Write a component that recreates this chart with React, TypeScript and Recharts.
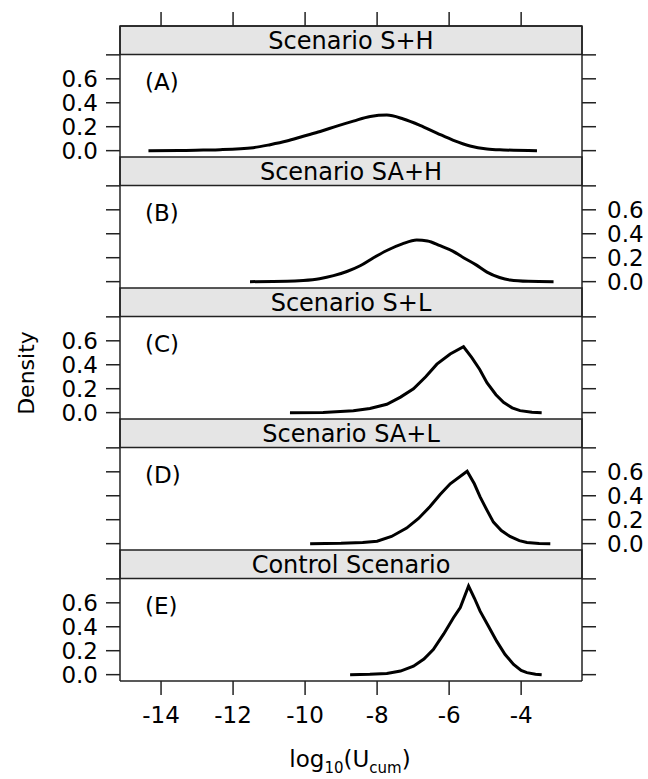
import { LineChart, Line, XAxis, YAxis, ReferenceArea } from 'recharts'

// panel layout (lattice-style stack of 5 density plots)
const xTicks = [-14, -12, -10, -8, -6, -4]
const densityTicks = [0, 0.2, 0.4, 0.6, 0.8]

const titles = ['Scenario S+H', 'Scenario SA+H', 'Scenario S+L', 'Scenario SA+L', 'Control Scenario']
const tags = ['(A)', '(B)', '(C)', '(D)', '(E)']

// (A) S+H
const logA = [-14.35, -13.5, -12.83, -12.36, -11.44, -10.97, -10.51, -10.05, -9.58, -9.12, -8.66, -8.19, -7.73, -7.27, -6.81, -6.34, -5.88, -5.42, -4.95, -4.49, -3.56]
const densA = [0, 0.001, 0.005, 0.008, 0.025, 0.05, 0.08, 0.12, 0.16, 0.205, 0.247, 0.286, 0.297, 0.264, 0.211, 0.147, 0.086, 0.039, 0.014, 0.006, 0]

// (B) SA+H
const logB = [-11.53, -10.5, -10.05, -9.6, -9.21, -8.84, -8.47, -8.1, -7.73, -7.3, -6.9, -6.6, -6.25, -5.9, -5.6, -5.25, -4.95, -4.6, -4.31, -3.8, -3.1]
const densB = [0, 0.003, 0.01, 0.025, 0.05, 0.085, 0.133, 0.2, 0.26, 0.315, 0.347, 0.34, 0.3, 0.255, 0.2, 0.14, 0.08, 0.035, 0.014, 0.003, 0]

// (C) S+L
const logC = [-10.42, -9.5, -8.66, -8.2, -7.73, -7.35, -6.99, -6.65, -6.34, -5.97, -5.6, -5.37, -5.15, -4.95, -4.7, -4.49, -4.25, -4.03, -3.7, -3.43]
const densC = [0, 0.002, 0.015, 0.035, 0.07, 0.13, 0.2, 0.3, 0.405, 0.49, 0.55, 0.46, 0.36, 0.25, 0.15, 0.086, 0.04, 0.017, 0.003, 0]

// (D) SA+L
const logD = [-9.86, -9.0, -8.4, -8.0, -7.6, -7.18, -6.85, -6.53, -6.25, -5.97, -5.5, -5.3, -5.14, -4.95, -4.77, -4.55, -4.31, -4.05, -3.84, -3.5, -3.19]
const densD = [0, 0.003, 0.01, 0.02, 0.06, 0.13, 0.21, 0.31, 0.41, 0.5, 0.605, 0.5, 0.39, 0.28, 0.18, 0.11, 0.06, 0.025, 0.01, 0.002, 0]

// (E) control
const logE = [-8.75, -8.2, -7.73, -7.35, -6.99, -6.7, -6.44, -6.15, -5.88, -5.69, -5.46, -5.3, -5.14, -4.9, -4.68, -4.45, -4.21, -4.0, -3.84, -3.6, -3.43]
const densE = [0, 0.003, 0.01, 0.03, 0.07, 0.13, 0.21, 0.34, 0.475, 0.56, 0.74, 0.64, 0.53, 0.4, 0.28, 0.17, 0.086, 0.035, 0.017, 0.004, 0]

const series = [
  { logs: logA, dens: densA, curve: 'monotone' },
  { logs: logB, dens: densB, curve: 'monotone' },
  { logs: logC, dens: densC, curve: 'linear' },
  { logs: logD, dens: densD, curve: 'linear' },
  { logs: logE, dens: densE, curve: 'linear' },
] as const

const W = 648
const H = 779
const FRAME_LEFT = 120
const FRAME_RIGHT = 582
const TOP = 26
const PANEL_H = 131
const X_DOMAIN: [number, number] = [-15.14, -2.31]
const Y_DOMAIN: [number, number] = [-0.053, 1.041]
const STRIP_FROM = 0.803
const FONT = 'DejaVu Sans, Verdana, sans-serif'
const INK = '#222'

const densityTick = (show: boolean) => (props: any) => {
  const { x, y, payload, textAnchor } = props
  if (!show || payload.value > 0.7) return <g />
  return (
    <text x={x} y={y} dy="0.36em" textAnchor={textAnchor} fontFamily={FONT} fontSize={23} fill="#000">
      {payload.value.toFixed(1)}
    </text>
  )
}

const logTick = (show: boolean) => (props: any) => {
  const { x, y, payload } = props
  if (!show) return <g />
  return (
    <text x={x} y={y} dy="0.71em" textAnchor="middle" fontFamily={FONT} fontSize={23} fill="#000">
      {payload.value}
    </text>
  )
}

function Panel({ i }: { i: number }) {
  const { logs, dens, curve } = series[i]
  const data = logs.map((x, k) => ({ x, d: dens[k] }))
  const top = TOP + i * PANEL_H
  const isFirst = i === 0
  const isLast = i === series.length - 1
  const labelsLeft = i % 2 === 0
  const axisH = isFirst ? 20 : 40
  const marginTop = isFirst ? top - axisH : top
  const marginBottom = isLast ? H - (top + PANEL_H) - axisH : H - (top + PANEL_H)

  return (
    <div style={{ position: 'absolute', left: 0, top: 0 }}>
      <LineChart
        width={W}
        height={H}
        data={data}
        margin={{ top: marginTop, bottom: marginBottom, left: FRAME_LEFT - 40, right: W - FRAME_RIGHT - 40 }}
      >
        <XAxis
          dataKey="x"
          type="number"
          domain={X_DOMAIN}
          ticks={xTicks}
          interval={0}
          allowDataOverflow
          hide={!isFirst && !isLast}
          orientation={isFirst ? 'top' : 'bottom'}
          height={axisH}
          tickSize={14}
          tickMargin={12}
          stroke={INK}
          strokeWidth={1.5}
          tick={logTick(isLast)}
        />
        <YAxis
          yAxisId="l"
          orientation="left"
          width={40}
          type="number"
          domain={Y_DOMAIN}
          ticks={densityTicks}
          interval={0}
          allowDataOverflow
          tickSize={14}
          tickMargin={8}
          stroke={INK}
          strokeWidth={1.5}
          tick={densityTick(labelsLeft)}
        />
        <YAxis
          yAxisId="r"
          orientation="right"
          width={40}
          type="number"
          domain={Y_DOMAIN}
          ticks={densityTicks}
          interval={0}
          allowDataOverflow
          tickSize={14}
          tickMargin={11}
          stroke={INK}
          strokeWidth={1.5}
          tick={densityTick(!labelsLeft)}
        />
        <ReferenceArea
          yAxisId="l"
          y1={STRIP_FROM}
          y2={Y_DOMAIN[1]}
          ifOverflow="visible"
          fill="#e5e5e5"
          fillOpacity={1}
          stroke={INK}
          strokeWidth={1.5}
          label={(p: any) => {
            const vb = p.viewBox || {}
            const { x = FRAME_LEFT, y = top, width = FRAME_RIGHT - FRAME_LEFT, height = 28 } = vb
            return (
              <g>
                <text x={x + width / 2} y={y + height / 2} dy="0.36em" textAnchor="middle" fontFamily={FONT} fontSize={24} fill="#000">
                  {titles[i]}
                </text>
                <text x={x + 25} y={y + height + 27} dy="0.36em" textAnchor="start" fontFamily={FONT} fontSize={23} fill="#000">
                  {tags[i]}
                </text>
              </g>
            )
          }}
        />
        <Line
          yAxisId="l"
          type={curve}
          dataKey="d"
          stroke="#000"
          strokeWidth={3}
          dot={false}
          isAnimationActive={false}
        />
      </LineChart>
    </div>
  )
}

export default function App() {
  return (
    <div style={{ position: 'absolute', left: 0, top: 0, width: W, height: H, background: '#fff', fontFamily: FONT }}>
      {series.map((_, i) => (
        <Panel key={i} i={i} />
      ))}
      <div
        style={{
          position: 'absolute',
          left: 27 - 100,
          top: 373 - 13,
          width: 200,
          lineHeight: '26px',
          textAlign: 'center',
          fontSize: 22,
          transform: 'rotate(-90deg)',
        }}
      >
        Density
      </div>
      <div
        style={{
          position: 'absolute',
          left: 350 - 150,
          top: 746,
          width: 300,
          lineHeight: '26px',
          textAlign: 'center',
          fontSize: 23,
        }}
      >
        log<sub style={{ fontSize: 15, lineHeight: 0 }}>10</sub>(U<sub style={{ fontSize: 15, lineHeight: 0 }}>cum</sub>)
      </div>
    </div>
  )
}
